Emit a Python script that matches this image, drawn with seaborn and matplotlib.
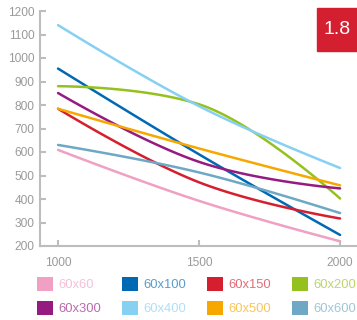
import matplotlib
matplotlib.use("Agg")
import matplotlib.pyplot as plt
from matplotlib.patches import Patch, Rectangle
import numpy as np
import pandas as pd
import seaborn as sns

sns.set_theme(style="white")
plt.rcParams["font.family"] = ["Liberation Sans", "DejaVu Sans"]

# data
x_vals = [1000, 1500, 2000]
sizes = ["60x60", "60x100", "60x150", "60x200",
         "60x300", "60x400", "60x500", "60x600"]
values = {
    "60x60": [609, 392, 220],
    "60x100": [955, 590, 247],
    "60x150": [784, 471, 317],
    "60x200": [880, 803, 402],
    "60x300": [851, 558, 445],
    "60x400": [1140, 795, 532],
    "60x500": [784, 615, 458],
    "60x600": [630, 513, 340],
}
colors = ["#f0a0c2", "#0069b4", "#d51f2e", "#95c11f",
          "#951b81", "#86d0f2", "#f7a800", "#6fa8c4"]
badge = "1.8"


def spline_controls(xs, ys, smoothing=1.5):
    """left/right bezier control points for each point (highcharts style)"""
    n = len(xs)
    left = [(xs[i], ys[i]) for i in range(n)]
    right = [(xs[i], ys[i]) for i in range(n)]
    den = smoothing + 1
    for i in range(1, n - 1):
        x0, y0 = xs[i - 1], ys[i - 1]
        x1, y1 = xs[i], ys[i]
        x2, y2 = xs[i + 1], ys[i + 1]
        lx, ly = (smoothing * x1 + x0) / den, (smoothing * y1 + y0) / den
        rx, ry = (smoothing * x1 + x2) / den, (smoothing * y1 + y2) / den
        corr = (ry - ly) * (rx - x1) / (rx - lx) + y1 - ry
        ly += corr
        ry += corr
        if ly > y0 and ly > y1:
            ly = max(y0, y1)
            ry = 2 * y1 - ly
        elif ly < y0 and ly < y1:
            ly = min(y0, y1)
            ry = 2 * y1 - ly
        if ry > y2 and ry > y1:
            ry = max(y2, y1)
            ly = 2 * y1 - ry
        elif ry < y2 and ry < y1:
            ry = min(y2, y1)
            ly = 2 * y1 - ry
        left[i] = (lx, ly)
        right[i] = (rx, ry)
    return left, right


def smooth(xs, ys, steps=60):
    left, right = spline_controls(xs, ys)
    t = np.linspace(0, 1, steps)[:, None]
    parts = []
    for i in range(1, len(xs)):
        p0 = np.array([xs[i - 1], ys[i - 1]])
        p1 = np.array(right[i - 1])
        p2 = np.array(left[i])
        p3 = np.array([xs[i], ys[i]])
        pts = ((1 - t) ** 3 * p0 + 3 * (1 - t) ** 2 * t * p1
               + 3 * (1 - t) * t ** 2 * p2 + t ** 3 * p3)
        parts.append(pts)
    return np.vstack(parts)


rows = []
for s in sizes:
    pts = smooth(x_vals, values[s])
    for k, (px, py) in enumerate(pts):
        rows.append({"size": s, "x": px, "y": py, "order": k})
df = pd.DataFrame(rows)

fig = plt.figure(figsize=(3.57, 3.2), dpi=100)
ax = fig.add_axes([40 / 357, 1 - 246 / 320, 317 / 357, 235 / 320])

sns.lineplot(data=df, x="x", y="y", hue="size", hue_order=sizes,
             palette=colors, sort=False, estimator=None, units="size",
             linewidth=1.8, legend=False, ax=ax)

ax.set_xlim(936, 2060)
ax.set_ylim(200, 1200)
ax.set_xticks(x_vals)
ax.set_yticks(range(200, 1201, 100))
ax.set(xlabel="", ylabel="")
grey = "#bdbdbd"
for side in ["top", "right"]:
    ax.spines[side].set_visible(False)
for side in ["left", "bottom"]:
    ax.spines[side].set_color(grey)
    ax.spines[side].set_linewidth(1.5)
ax.tick_params(axis="both", direction="in", length=4, width=1.5,
               color=grey, labelcolor="#9a9a9a", labelsize=8.6)
ax.tick_params(axis="y", pad=4, left=True)
ax.tick_params(axis="x", pad=8, bottom=True)

# badge
fig.patches.append(Rectangle((317 / 357, 1 - 51 / 320), 40 / 357, 43 / 320,
                             transform=fig.transFigure, color="#d41f30",
                             zorder=5))
fig.text(337 / 357, 1 - 30 / 320, badge, color="white", fontsize=14,
         ha="center", va="center", zorder=6)


def lighten(c, amt=0.35):
    r, g, b = matplotlib.colors.to_rgb(c)
    return (r + (1 - r) * amt, g + (1 - g) * amt, b + (1 - b) * amt)


# legend fills column by column, so reorder to get row-wise layout
order = [0, 4, 1, 5, 2, 6, 3, 7]
handles = [Patch(facecolor=colors[i], edgecolor="none") for i in order]
fig.legend(handles, [sizes[i] for i in order], ncol=4, loc="upper left",
           bbox_to_anchor=(37 / 357, 1 - 277 / 320), frameon=False,
           borderpad=0, borderaxespad=0, handlelength=1.23,
           handleheight=1.23, handletextpad=0.4, columnspacing=1.62,
           labelspacing=0.75, fontsize=9.4,
           labelcolor=[lighten(colors[i]) for i in order])

fig.savefig("out.png", dpi=100)
